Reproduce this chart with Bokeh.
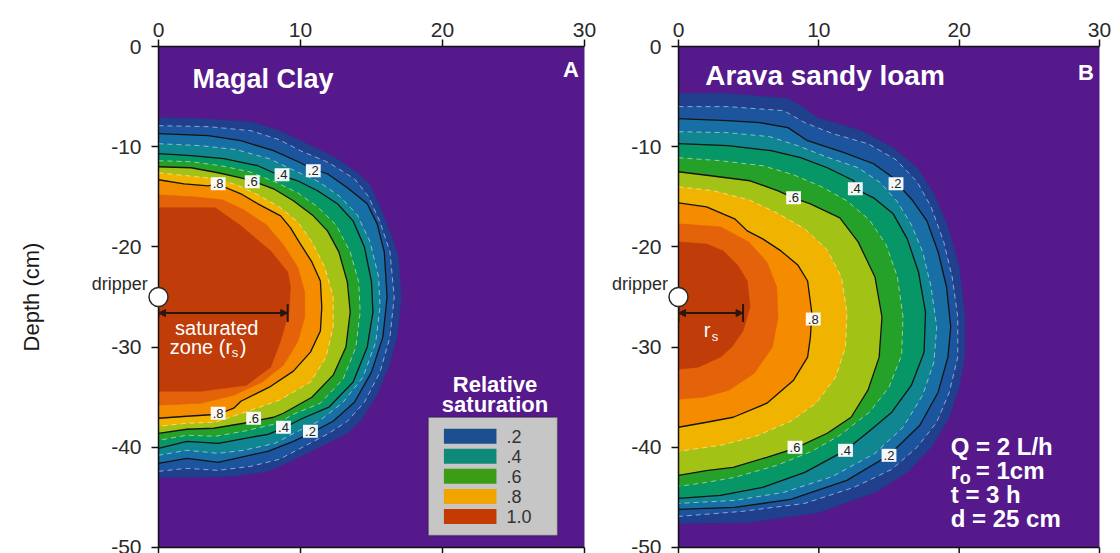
from bokeh.plotting import figure
from bokeh.layouts import row
from bokeh.models import Range1d, FixedTicker, Label, BoxAnnotation, Arrow, NormalHead, TeeHead
from bokeh.core.properties import value
from bokeh.embed import file_html
from bokeh.resources import INLINE

# ---------------- data ----------------
X_TICKS = [0, 10, 20, 30]
Y_TICKS = [0, -10, -20, -30, -40, -50]
LEVELS = [0.05, 0.1, 0.2, 0.3, 0.4, 0.5, 0.6, 0.7, 0.8, 0.9, 1.0]
BAND_COLORS = ["#203f8c", "#1c559e", "#176fa5", "#0f8690", "#079766", "#25a12a",
               "#a3c216", "#f0b400", "#f58c00", "#e4620a", "#c03c08"]
MAJOR_LEVELS = [0.2, 0.4, 0.6, 0.8]
MINOR_LEVELS = [0.1, 0.3, 0.5, 0.7]
BG_PURPLE = "#55198b"

# Panel A (Magal clay) contour outlines: x = radial distance (cm), y = depth (cm)
A_05_X = [0, 3, 6.5, 8.5, 10, 11.5, 12.8, 14, 14.9, 15.6, 16.3, 16.9, 17.1, 16.8, 16.2, 15.3, 14.2, 13.3, 11.2, 9.3, 7.7, 5.3, 3, 0]
A_05_Y = [-7.1, -7.2, -7.5, -8.4, -9.4, -10.4, -11.4, -12.6, -13.8, -16, -18.5, -21, -25, -29, -32, -35, -37.4, -38.6, -40.1, -41.4, -42.4, -42.9, -43, -43]
A_10_X = [0, 3.5, 6.5, 8.5, 10, 12, 13.8, 14.8, 15.6, 16.3, 16.6, 16.3, 15.6, 14.5, 13.3, 12, 10, 8.5, 6.5, 4.2, 2, 0]
A_10_Y = [-7.9, -8, -8.4, -9.3, -10.4, -11.6, -13.2, -15, -17.5, -20.5, -25, -29, -32.5, -35.5, -37.4, -38.6, -40.1, -41.2, -41.9, -42.3, -42.1, -42.4]
A_20_X = [0, 3.5, 5.8, 8.1, 10, 10.8, 11.9, 13.3, 14.7, 15.4, 15.9, 16.1, 15.8, 15, 13.8, 12.3, 10.7, 9.5, 7.7, 4.2, 2, 0]
A_20_Y = [-8.7, -8.9, -9.4, -10.4, -11.6, -12.2, -12.7, -14.1, -15.7, -17.7, -20.5, -25, -29, -32.5, -35.5, -37.4, -38.6, -39.4, -40.4, -41.5, -41.1, -41.6]
A_30_X = [0, 3, 5.5, 7.8, 9.6, 11.3, 12.8, 14, 14.9, 15.5, 15.6, 15.3, 14.4, 13, 11.3, 9.8, 8.2, 6, 4.2, 2, 0]
A_30_Y = [-9.7, -9.9, -10.3, -11.2, -12.4, -13.5, -15, -16.8, -19.5, -23, -26, -29.5, -33, -35.5, -37.4, -38.4, -39.6, -40.3, -40.6, -40.3, -40.8]
A_40_X = [0, 2.3, 4.6, 7, 8.1, 8.7, 9.8, 11.2, 12.6, 13.7, 14.5, 15, 15.1, 14.7, 13.7, 12, 10, 8.8, 7.7, 4.2, 2, 0]
A_40_Y = [-10.7, -10.9, -11.2, -11.9, -12.6, -12.9, -13.4, -14.4, -15.7, -17.4, -20, -23.5, -26.5, -30, -33.5, -36, -37.2, -38.1, -38.7, -39.6, -39.4, -40.1]
A_50_X = [0, 2.3, 4.4, 6.4, 8.2, 9.8, 11.2, 12.5, 13.5, 14.1, 14.2, 13.9, 13, 11.4, 9.5, 8.4, 6, 4, 2, 0]
A_50_Y = [-11.4, -11.5, -11.9, -12.5, -13.5, -14.6, -16, -17.8, -20.5, -23.5, -26.5, -30, -33.2, -35.6, -36.7, -37.6, -38.4, -38.9, -38.8, -39.3]
A_60_X = [0, 2.3, 4.2, 5.8, 6.6, 8.1, 9.5, 10.9, 11.9, 12.7, 13.3, 13.5, 13.2, 12.3, 10.8, 8.8, 8.1, 6, 3.9, 2, 0]
A_60_Y = [-12, -12.1, -12.6, -13.1, -13.4, -14.2, -15.4, -16.9, -18.4, -20.5, -23.5, -26.5, -30, -32.8, -35, -36.6, -37, -37.6, -38.1, -38.2, -38.6]
A_70_X = [0, 2, 4, 5.5, 7, 8.5, 9.8, 10.8, 11.7, 12.3, 12.3, 11.8, 10.7, 8.5, 6.5, 4, 2, 0]
A_70_Y = [-12.6, -12.9, -13.2, -13.8, -14.8, -16, -17.5, -19.5, -22, -25, -28, -31, -33.5, -35.3, -36.3, -37.5, -37.6, -37.9]
A_80_X = [0, 1.8, 3.5, 4.1, 5.8, 7, 8.6, 9.3, 9.9, 10.8, 11.4, 11.5, 11.4, 10.7, 9.5, 7.8, 5.8, 5.3, 4.2, 2, 0]
A_80_Y = [-13.3, -13.7, -13.9, -13.7, -14.7, -15.7, -16.9, -18.1, -19.5, -21.5, -23.4, -26, -28.4, -30.5, -32.4, -34, -35.4, -36.1, -36.7, -36.9, -37.1]
A_90_X = [0, 2.5, 4.5, 6, 7.6, 8.8, 9.8, 10.3, 10.3, 9.8, 8.8, 7.3, 5.3, 3, 0]
A_90_Y = [-14.8, -15, -15.3, -16.3, -17.8, -19.8, -22, -24.5, -27, -29.5, -31.8, -33.5, -34.8, -35.6, -35.8]
A_100_X = [0, 4, 5.8, 7.9, 9.1, 9.3, 9.2, 8.6, 7.9, 6.2, 3, 0]
A_100_Y = [-16.1, -16.1, -17.9, -20.4, -22.5, -24, -26.4, -29.4, -32, -33.8, -34.4, -34.4]

# Panel B (Arava sandy loam)
B_05_X = [0, 3.5, 7.8, 8.7, 9.9, 13, 15.3, 17, 18.2, 19.2, 20, 20.4, 20.4, 20, 19.3, 18, 16.3, 14, 10, 5, 0]
B_05_Y = [-4.7, -4.7, -5.2, -5.9, -7.1, -8.4, -10.1, -12.1, -14.7, -18, -22, -27, -31, -34, -37, -40, -42.5, -44.5, -46.5, -47.5, -47.6]
B_10_X = [0, 3.5, 7.5, 9, 11, 13.5, 15.5, 17, 18, 18.9, 19.5, 19.9, 19.9, 19.3, 18.4, 17, 15.2, 12.5, 9, 4.5, 0]
B_10_Y = [-6, -6, -6.4, -7.6, -8.7, -9.7, -11.3, -13.5, -16, -19.5, -23, -27, -31, -34.5, -37.5, -40, -42.2, -44, -45.6, -46.4, -46.9]
B_20_X = [0, 3.5, 5.8, 7.8, 9.2, 11.8, 13.9, 15.3, 15.6, 16.7, 17.7, 18.5, 19.1, 19.4, 19.2, 18.5, 17.2, 15, 12, 8, 4, 0]
B_20_Y = [-7.2, -7.4, -7.6, -8.1, -9.4, -10.6, -11.7, -13.1, -13.7, -15.4, -17.4, -20.5, -24, -28, -31, -34.5, -37.8, -40.8, -43.3, -45.2, -46, -46.2]
B_30_X = [0, 3.5, 6.5, 8.5, 10.5, 12.8, 14.4, 15.6, 16.6, 17.4, 18, 18.4, 18.2, 17.4, 16, 14, 11, 7.5, 4, 0]
B_30_Y = [-8.5, -8.6, -9, -9.9, -11, -12.1, -13.6, -15.5, -17.8, -20.5, -24, -28, -31.5, -34.8, -38, -40.6, -42.9, -44.5, -45.3, -45.6]
B_40_X = [0, 3.5, 6.6, 8.7, 10.6, 12.5, 12.6, 13.9, 15.3, 16.3, 17.1, 17.6, 17.5, 16.6, 15.2, 13.5, 11.9, 9, 6, 3, 0]
B_40_Y = [-9.7, -9.9, -10.4, -11.1, -12.1, -13.4, -14.2, -15.1, -16.7, -19.2, -22.5, -26.5, -30.5, -33.8, -36.5, -38.5, -40.3, -42.5, -44, -44.8, -45.1]
B_50_X = [0, 3, 6, 8.2, 10.2, 12, 13.6, 14.8, 15.6, 16, 15.9, 15, 13.6, 11.5, 9.5, 7, 4, 2, 0]
B_50_Y = [-11.1, -11.4, -11.9, -12.8, -14, -15.4, -17.3, -19.8, -23, -27, -30.8, -34, -36.5, -38.8, -40.4, -41.8, -43, -43.5, -43.9]
B_60_X = [0, 2.3, 5.1, 7.1, 8.2, 9.4, 11.5, 12.8, 14, 14.5, 14.3, 13.5, 12.3, 10.6, 8.3, 6.3, 3.9, 2.1, 0]
B_60_Y = [-12.5, -12.9, -13.4, -14.4, -15.1, -15.7, -17.1, -19.5, -23, -27, -31, -34.3, -37, -38.6, -40.1, -41, -42, -42.3, -42.8]
B_70_X = [0, 2.5, 5, 7, 9, 10.6, 11.6, 12, 11.9, 11.2, 9.8, 8, 5.5, 3, 0]
B_70_Y = [-14, -14.4, -15.3, -16.6, -18.2, -20.3, -23, -26.5, -30, -33, -35.6, -37.4, -38.9, -39.8, -40.4]
B_80_X = [0, 2, 4, 4.9, 6, 7.3, 8.5, 9.2, 9.5, 9.4, 9.2, 8.2, 6.3, 3.9, 2, 0]
B_80_Y = [-15.6, -16, -17.2, -18.4, -19.2, -20.4, -21.8, -23.4, -26.6, -29, -31, -33.3, -35.6, -37, -37.5, -38]
B_90_X = [0, 3, 5, 6.3, 7, 7.1, 6.7, 5.4, 3.6, 1.8, 0]
B_90_Y = [-17.7, -18, -19.5, -21.5, -24, -27, -30, -32.6, -34.3, -35, -35.2]
B_100_X = [0, 2, 3.2, 4.2, 4.9, 5.1, 4.6, 3.8, 3, 1.4, 0]
B_100_Y = [-19.5, -19.7, -20.4, -21.8, -23.4, -26, -28.4, -30, -31, -32, -32.2]

# contour label texts and positions
A_LBL_TEXT = [".8", ".6", ".4", ".2", ".8", ".6", ".4", ".2"]
A_LBL_X = [4.2, 6.6, 8.7, 10.9, 4.2, 6.7, 8.8, 10.7]
A_LBL_Y = [-13.7, -13.5, -12.8, -12.4, -36.6, -37.1, -38.0, -38.4]
B_LBL_TEXT = [".6", ".4", ".2", ".8", ".6", ".4", ".2"]
B_LBL_X = [8.2, 12.6, 15.5, 9.6, 8.3, 11.9, 15.0]
B_LBL_Y = [-15.1, -14.2, -13.7, -27.2, -40.0, -40.3, -40.8]

DRIPPER_DEPTH = -25
A_RS = 9.1    # saturated zone radius, Magal clay
B_RS = 4.6    # saturated zone radius, Arava sandy loam

LEGEND_LABELS = [".2", ".4", ".6", ".8", "1.0"]
LEGEND_COLORS = ["#1b4f90", "#0f8a78", "#3c9c14", "#f0a400", "#c43a00"]

FONT = "Liberation Sans"
AX = "#111111"

A_CONTOURS = [(A_05_X, A_05_Y), (A_10_X, A_10_Y), (A_20_X, A_20_Y), (A_30_X, A_30_Y),
              (A_40_X, A_40_Y), (A_50_X, A_50_Y), (A_60_X, A_60_Y), (A_70_X, A_70_Y),
              (A_80_X, A_80_Y), (A_90_X, A_90_Y), (A_100_X, A_100_Y)]
B_CONTOURS = [(B_05_X, B_05_Y), (B_10_X, B_10_Y), (B_20_X, B_20_Y), (B_30_X, B_30_Y),
              (B_40_X, B_40_Y), (B_50_X, B_50_Y), (B_60_X, B_60_Y), (B_70_X, B_70_Y),
              (B_80_X, B_80_Y), (B_90_X, B_90_Y), (B_100_X, B_100_Y)]


def make_panel(contours, border_left, border_right, frame_w, show_ylabel):
    p = figure(frame_width=frame_w, frame_height=501,
               x_range=Range1d(0, 30), y_range=Range1d(-50, 0),
               x_axis_location="above", output_backend="svg", toolbar_location=None,
               min_border_left=border_left, min_border_right=border_right,
               min_border_top=46, min_border_bottom=6)
    p.background_fill_color = BG_PURPLE
    p.border_fill_color = "white"
    p.outline_line_color = None
    p.grid.visible = False
    for ax in (p.xaxis[0], p.yaxis[0]):
        ax.axis_line_color = AX
        ax.axis_line_width = 1.5
        ax.major_tick_line_color = AX
        ax.major_tick_line_width = 1.5
        ax.major_tick_out = 7
        ax.major_tick_in = 0
        ax.minor_tick_out = 0
        ax.minor_tick_in = 0
        ax.major_label_text_font = FONT
        ax.major_label_text_font_size = "21px"
        ax.major_label_text_color = "#2a2a2a"
    p.xaxis[0].ticker = FixedTicker(ticks=X_TICKS)
    p.xaxis[0].major_label_standoff = 3
    p.yaxis[0].ticker = FixedTicker(ticks=Y_TICKS)
    p.yaxis[0].major_label_standoff = 10
    p.yaxis[0].major_label_overrides = {t: str(t) for t in Y_TICKS}
    if show_ylabel:
        p.yaxis[0].axis_label = "Depth (cm)"
        p.yaxis[0].axis_label_text_font = FONT
        p.yaxis[0].axis_label_text_font_size = "22px"
        p.yaxis[0].axis_label_text_font_style = "normal"
        p.yaxis[0].axis_label_text_color = "#1a1a1a"
        p.yaxis[0].axis_label_standoff = 64

    # filled bands
    for (xs, ys), col in zip(contours, BAND_COLORS):
        p.patch(xs, ys, fill_color=col, line_color=col, line_width=0.5)
    # minor (white dashed) contour lines
    for (xs, ys), lev in zip(contours, LEVELS):
        if lev in MINOR_LEVELS:
            p.line(xs, ys, line_color="white", line_alpha=0.5, line_width=1, line_dash="5 4")
    # major (black) contour lines
    for (xs, ys), lev in zip(contours, LEVELS):
        if lev in MAJOR_LEVELS:
            p.line(xs, ys, line_color="#141414", line_width=1.3)

    # bottom frame line with outward ticks (bottom edge of the original figure)
    y0 = p.y_range.start
    p.segment(x0=[X_TICKS[0]], y0=[y0], x1=[X_TICKS[-1]], y1=[y0],
              line_color=AX, line_width=1.5, level="overlay")
    p.segment(x0=X_TICKS, y0=[y0] * len(X_TICKS), x1=X_TICKS, y1=[y0 - 0.6] * len(X_TICKS),
              line_color=AX, line_width=1.5, level="overlay")
    return p


def contour_labels(p, texts, xs, ys):
    for t, x, y in zip(texts, xs, ys):
        p.add_layout(Label(x=x, y=y, text=t, text_font=FONT, text_font_size="13px",
                           text_color="#222222", text_align="center", text_baseline="middle",
                           background_fill_color="white", background_fill_alpha=0.95, padding=2))


def txt(p, x, y, text, size, color="white", bold=True, align="left", xo=0, yo=0):
    p.add_layout(Label(x=x, y=y, text=text, text_font=FONT, text_font_size=size,
                       text_font_style="bold" if bold else "normal", text_color=color,
                       text_align=align, text_baseline="middle", x_offset=xo, y_offset=yo))


def dripper(p, rs, both_tees):
    c = "#2b160a"
    p.add_layout(Arrow(start=NormalHead(size=7, fill_color=c, line_color=c),
                       end=NormalHead(size=7, fill_color=c, line_color=c),
                       x_start=0, y_start=DRIPPER_DEPTH - 1.6, x_end=rs, y_end=DRIPPER_DEPTH - 1.6,
                       line_color=c, line_width=2))
    p.add_layout(Arrow(start=TeeHead(size=18 if both_tees else 8, line_color=c, line_width=2),
                       end=TeeHead(size=18, line_color=c, line_width=2),
                       x_start=0, y_start=DRIPPER_DEPTH - 1.6, x_end=rs, y_end=DRIPPER_DEPTH - 1.6,
                       line_color=c, line_width=2))
    p.scatter([0], [DRIPPER_DEPTH], size=19, fill_color="white", line_color="#2a2a2a",
              line_width=1.5, level="overlay")
    p.text(x=[-0.75], y=[DRIPPER_DEPTH + 1.3], text=["dripper"], text_font=value(FONT),
           text_font_size="18px", text_color="#2a2a2a", text_align="right",
           text_baseline="middle", level="overlay")


# ---------------- panel A ----------------
pA = make_panel(A_CONTOURS, 158, 20, 426, True)
contour_labels(pA, A_LBL_TEXT, A_LBL_X, A_LBL_Y)
dripper(pA, A_RS, False)
txt(pA, 2.4, -3.2, "Magal Clay", "27px")
txt(pA, 29.6, -2.3, "A", "22px", align="right")
txt(pA, 4.1, -28.1, "saturated", "20px", bold=False, align="center")
txt(pA, 0.8, -30.0, "zone (r", "20px", bold=False)
txt(pA, 0.8, -30.0, "s", "13px", bold=False, xo=62, yo=-5)
txt(pA, 0.8, -30.0, ")", "20px", bold=False, xo=70)

# legend
pA.add_layout(BoxAnnotation(left=19.0, right=28.1, top=-37.0, bottom=-48.8,
                            fill_color="#c6c6c6", fill_alpha=1, line_color="#111111", line_width=1.5))
txt(pA, 23.7, -33.7, "Relative", "22px", align="center")
txt(pA, 23.7, -35.7, "saturation", "22px", align="center")
for i, (lab, col) in enumerate(zip(LEGEND_LABELS, LEGEND_COLORS)):
    yc = -38.9 - 2.0 * i
    pA.add_layout(BoxAnnotation(left=20.1, right=23.8, top=yc + 0.75, bottom=yc - 0.75,
                                fill_color=col, fill_alpha=1, line_color=None))
    txt(pA, 24.5, yc, lab, "18px", color="#333333", bold=False)

# ---------------- panel B ----------------
pB = make_panel(B_CONTOURS, 74, 21, 421, False)
contour_labels(pB, B_LBL_TEXT, B_LBL_X, B_LBL_Y)
dripper(pB, B_RS, True)
txt(pB, 1.9, -2.9, "Arava sandy loam", "28px")
txt(pB, 29.6, -2.6, "B", "22px", align="right")
txt(pB, 1.8, -28.3, "r", "20px", bold=False)
txt(pB, 1.8, -28.3, "s", "13px", bold=False, xo=8, yo=-6)
txt(pB, 19.4, -39.9, "Q = 2 L/h", "24px")
txt(pB, 19.4, -42.3, "r", "24px")
txt(pB, 19.4, -42.3, "o", "18px", xo=9, yo=-8)
txt(pB, 19.4, -42.3, "= 1cm", "24px", xo=25)
txt(pB, 19.4, -44.7, "t = 3 h", "24px")
txt(pB, 19.4, -47.1, "d = 25 cm", "24px")

layout = row(pA, pB)
open("out.html", "w").write(file_html(layout, INLINE))
